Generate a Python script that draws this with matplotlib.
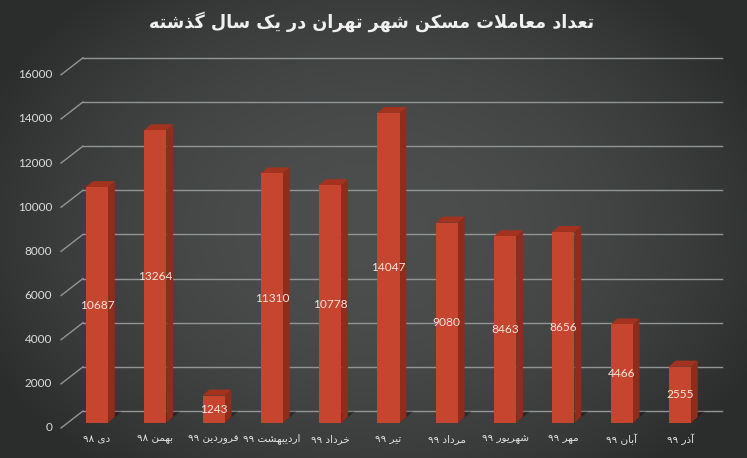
import re
import numpy as np
import matplotlib
matplotlib.use('Agg')
import matplotlib.pyplot as plt
from matplotlib.patches import Polygon

# data
months = ['دی ۹۸', 'بهمن ۹۸', 'فروردین ۹۹', 'اردیبهشت ۹۹', 'خرداد ۹۹', 'تیر ۹۹',
          'مرداد ۹۹', 'شهریور ۹۹', 'مهر ۹۹', 'آبان ۹۹', 'آذر ۹۹']
deals = [10687, 13264, 1243, 11310, 10778, 14047, 9080, 8463, 8656, 4466, 2555]
yticks = [0, 2000, 4000, 6000, 8000, 10000, 12000, 14000, 16000]
title = 'تعداد معاملات مسکن شهر تهران در یک سال گذشته'

# --- minimal arabic/persian shaping (matplotlib has no complex text layout) ---
FORMS = {
    '\u0622': ('\uFE81', '\uFE82', None, None),
    '\u0627': ('\uFE8D', '\uFE8E', None, None),
    '\u0628': ('\uFE8F', '\uFE90', '\uFE91', '\uFE92'),
    '\u062A': ('\uFE95', '\uFE96', '\uFE97', '\uFE98'),
    '\u062E': ('\uFEA5', '\uFEA6', '\uFEA7', '\uFEA8'),
    '\u062F': ('\uFEA9', '\uFEAA', None, None),
    '\u0630': ('\uFEAB', '\uFEAC', None, None),
    '\u0631': ('\uFEAD', '\uFEAE', None, None),
    '\u0633': ('\uFEB1', '\uFEB2', '\uFEB3', '\uFEB4'),
    '\u0634': ('\uFEB5', '\uFEB6', '\uFEB7', '\uFEB8'),
    '\u0639': ('\uFEC9', '\uFECA', '\uFECB', '\uFECC'),
    '\u0641': ('\uFED1', '\uFED2', '\uFED3', '\uFED4'),
    '\u0644': ('\uFEDD', '\uFEDE', '\uFEDF', '\uFEE0'),
    '\u0645': ('\uFEE1', '\uFEE2', '\uFEE3', '\uFEE4'),
    '\u0646': ('\uFEE5', '\uFEE6', '\uFEE7', '\uFEE8'),
    '\u0647': ('\uFEE9', '\uFEEA', '\uFEEB', '\uFEEC'),
    '\u0648': ('\uFEED', '\uFEEE', None, None),
    '\u06A9': ('\uFB8E', '\uFB8F', '\uFB90', '\uFB91'),
    '\u06AF': ('\uFB92', '\uFB93', '\uFB94', '\uFB95'),
    '\u06CC': ('\uFBFC', '\uFBFD', '\uFBFE', '\uFBFF'),
}
LAM_ALEF = {'\u0627': ('\uFEFB', '\uFEFC'), '\u0622': ('\uFEF5', '\uFEF6')}


def dual(ch):
    return ch in FORMS and FORMS[ch][2] is not None


def shape(text):
    out = []
    i = 0
    n = len(text)
    while i < n:
        ch = text[i]
        if ch not in FORMS:
            out.append(ch)
            i += 1
            continue
        join_prev = i > 0 and dual(text[i - 1])
        nxt = text[i + 1] if i + 1 < n else ''
        if ch == '\u0644' and nxt in LAM_ALEF:
            out.append(LAM_ALEF[nxt][1] if join_prev else LAM_ALEF[nxt][0])
            i += 2
            continue
        join_next = dual(ch) and nxt in FORMS
        iso, fin, ini, med = FORMS[ch]
        if join_prev and join_next:
            out.append(med)
        elif join_prev:
            out.append(fin)
        elif join_next:
            out.append(ini)
        else:
            out.append(iso)
        i += 1
    s = ''.join(out)
    # right-to-left: reverse runs, keep digit runs left-to-right
    runs = re.findall(r'[0-9\u06F0-\u06F9]+|[^0-9\u06F0-\u06F9]+', s)
    return ''.join(r if r[0].isdigit() else r[::-1] for r in reversed(runs))


plt.rcParams['font.family'] = ['DejaVu Sans']

fig = plt.figure(figsize=(7.47, 4.58), dpi=100)

# background gradient
bg = fig.add_axes([0, 0, 1, 1], zorder=0)
gx, gy = np.meshgrid(np.linspace(-1, 1, 400), np.linspace(-1, 1, 300))
r2 = (gx / 1.05) ** 2 + (gy / 1.25) ** 2
shade = np.clip(0.30 - 0.11 * r2, 0.17, 0.30)
img = np.dstack([shade, shade + 0.008, shade + 0.008])
bg.imshow(img, aspect='auto', extent=[0, 1, 0, 1], interpolation='bilinear')
bg.axis('off')

ax = fig.add_axes([0, 0, 1, 1], zorder=1)
ax.patch.set_alpha(0)
ax.set_xlim(-1.664, 11.149)
ax.set_ylim(-1586, 19162)
ax.axis('off')

grid_c = '#929595'
front_dy, back_dy = -226, 544
for t in yticks:
    ax.plot([-0.617, -0.240], [t + front_dy, t + back_dy], color=grid_c, lw=1.0, zorder=1)
    ax.plot([-0.240, 10.72], [t + back_dy, t + back_dy], color=grid_c, lw=1.0, zorder=1)
    ax.text(-0.772, t + front_dy, str(t), ha='right', va='center', fontsize=8.5,
            color='#dcdcdc', family='Lato')

x = np.arange(len(deals))
w = 0.38
ddx, ddy = 0.115, 270

# shadows on the floor
for xi in x:
    ax.add_patch(Polygon([(xi - w / 2, 0), (xi + w / 2, 0), (xi + w / 2 + ddx + 0.12, ddy + 250),
                          (xi - w / 2 + ddx + 0.12, ddy + 250)], closed=True,
                         facecolor='black', alpha=0.35, lw=0, zorder=2))

ax.bar(x, deals, width=w, color='#c6452e', zorder=4)
for xi, v in zip(x, deals):
    r = xi + w / 2
    l = xi - w / 2
    ax.add_patch(Polygon([(r, 0), (r + ddx, ddy), (r + ddx, v + ddy), (r, v)], closed=True,
                         facecolor='#8e2d1c', lw=0, zorder=3))
    ax.add_patch(Polygon([(l, v), (r, v), (r + ddx, v + ddy), (l + ddx, v + ddy)], closed=True,
                         facecolor='#a3321f', lw=0, zorder=3))
    ax.text(xi, v / 2, str(v), ha='center', va='center', fontsize=8.6, color='#f3e4de',
            family='Lato', zorder=5)

for xi, m in zip(x, months):
    ax.text(xi, -720, shape(m), ha='center', va='center', fontsize=7.5, color='#e2e2e2')

fig.text(0.497, 0.953, shape(title), ha='center', va='center', fontsize=12.7,
         fontweight='bold', color='#f0f0f0')

plt.savefig('out.png', dpi=100)
